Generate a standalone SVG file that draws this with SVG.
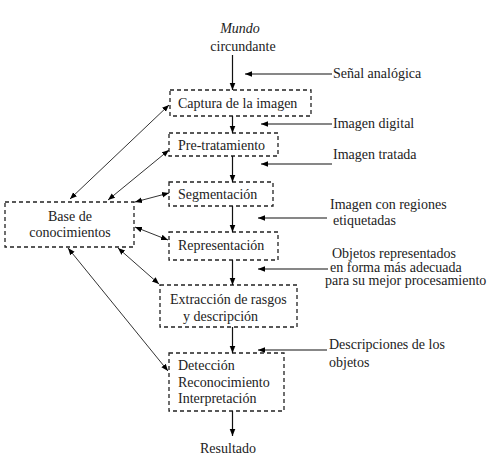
<svg xmlns="http://www.w3.org/2000/svg" width="495" height="460" viewBox="0 0 495 460">
<defs>
<marker id="ah" viewBox="0 0 10 10" refX="10" refY="5" markerWidth="7" markerHeight="7" orient="auto-start-reverse" markerUnits="userSpaceOnUse">
<path d="M0,1 L10,5 L0,9 Z" fill="#000"/>
</marker>
</defs>
<style>
text{font-family:'Liberation Serif','DejaVu Serif',serif;font-size:14px;fill:#222}
.box{fill:none;stroke:#222;stroke-width:1.3;stroke-dasharray:4 3}
.c{stroke:#111;stroke-width:1.2;fill:none}
.d{stroke:#333;stroke-width:1;fill:none}
</style>
<rect width="495" height="460" fill="#fff"/>
<text x="240" y="33" text-anchor="middle" font-style="italic">Mundo</text>
<text x="243" y="51" text-anchor="middle">circundante</text>
<g id="captura"><rect class="box" x="170" y="90" width="141" height="26"/><text x="178" y="108">Captura de la imagen</text></g>
<g id="pretratamiento"><rect class="box" x="169" y="133" width="109" height="23"/><text x="178" y="150">Pre-tratamiento</text></g>
<g id="segmentacion"><rect class="box" x="169" y="182" width="104" height="24"/><text x="178" y="199">Segmentación</text></g>
<g id="representacion"><rect class="box" x="169" y="232" width="109" height="28"/><text x="178" y="250">Representación</text></g>
<g id="extraccion"><rect class="box" x="160" y="285" width="137" height="42"/><text x="170" y="304">Extracción de rasgos</text><text x="183" y="321">y descripción</text></g>
<g id="deteccion"><rect class="box" x="169" y="353" width="115" height="58"/><text x="178" y="370">Detección</text><text x="178" y="387">Reconocimiento</text><text x="178" y="403">Interpretación</text></g>
<g id="base"><rect class="box" x="5" y="202" width="129" height="45"/><text x="70" y="221" text-anchor="middle">Base de</text><text x="70" y="237" text-anchor="middle">conocimientos</text></g>
<text x="228" y="453" text-anchor="middle">Resultado</text>
<g id="labels">
<text x="333" y="78">Señal analógica</text>
<text x="333" y="128">Imagen digital</text>
<text x="333" y="159">Imagen tratada</text>
<text x="330" y="209">Imagen con regiones</text>
<text x="333" y="225">etiquetadas</text>
<text x="332" y="258">Objetos representados</text>
<text x="330" y="271.5">en forma más adecuada</text>
<text x="325" y="285">para su mejor procesamiento</text>
<text x="329" y="349">Descripciones de los</text>
<text x="329" y="367">objetos</text>
</g>
<g id="connectors">
<line class="c" x1="232.5" y1="55" x2="232.5" y2="90" marker-end="url(#ah)"/>
<line class="c" x1="232.5" y1="116" x2="232.5" y2="133" marker-end="url(#ah)"/>
<line class="c" x1="232.5" y1="156" x2="232.5" y2="182" marker-end="url(#ah)"/>
<line class="c" x1="232.5" y1="206" x2="232.5" y2="232" marker-end="url(#ah)"/>
<line class="c" x1="232.5" y1="260" x2="232.5" y2="285" marker-end="url(#ah)"/>
<line class="c" x1="232.5" y1="327" x2="232.5" y2="353" marker-end="url(#ah)"/>
<line class="c" x1="232.5" y1="411" x2="232.5" y2="436" marker-end="url(#ah)"/>
<line class="c" x1="332" y1="74" x2="245" y2="74" marker-end="url(#ah)"/>
<line class="c" x1="332" y1="124" x2="261" y2="124" marker-end="url(#ah)"/>
<line class="c" x1="332" y1="164" x2="261" y2="164" marker-end="url(#ah)"/>
<line class="c" x1="327" y1="218" x2="258" y2="218" marker-end="url(#ah)"/>
<line class="c" x1="328" y1="269" x2="258" y2="269" marker-end="url(#ah)"/>
<line class="c" x1="327" y1="350" x2="258" y2="350" marker-end="url(#ah)"/>
<line class="d" x1="70" y1="199" x2="169" y2="105" marker-start="url(#ah)" marker-end="url(#ah)"/>
<line class="d" x1="108" y1="200" x2="169" y2="150" marker-start="url(#ah)" marker-end="url(#ah)"/>
<line class="d" x1="135" y1="202" x2="169" y2="193" marker-start="url(#ah)" marker-end="url(#ah)"/>
<line class="d" x1="135" y1="227" x2="168" y2="240" marker-start="url(#ah)" marker-end="url(#ah)"/>
<line class="d" x1="118" y1="248" x2="159" y2="284" marker-start="url(#ah)" marker-end="url(#ah)"/>
<line class="d" x1="68" y1="248" x2="168" y2="371" marker-start="url(#ah)" marker-end="url(#ah)"/>
</g>
</svg>
